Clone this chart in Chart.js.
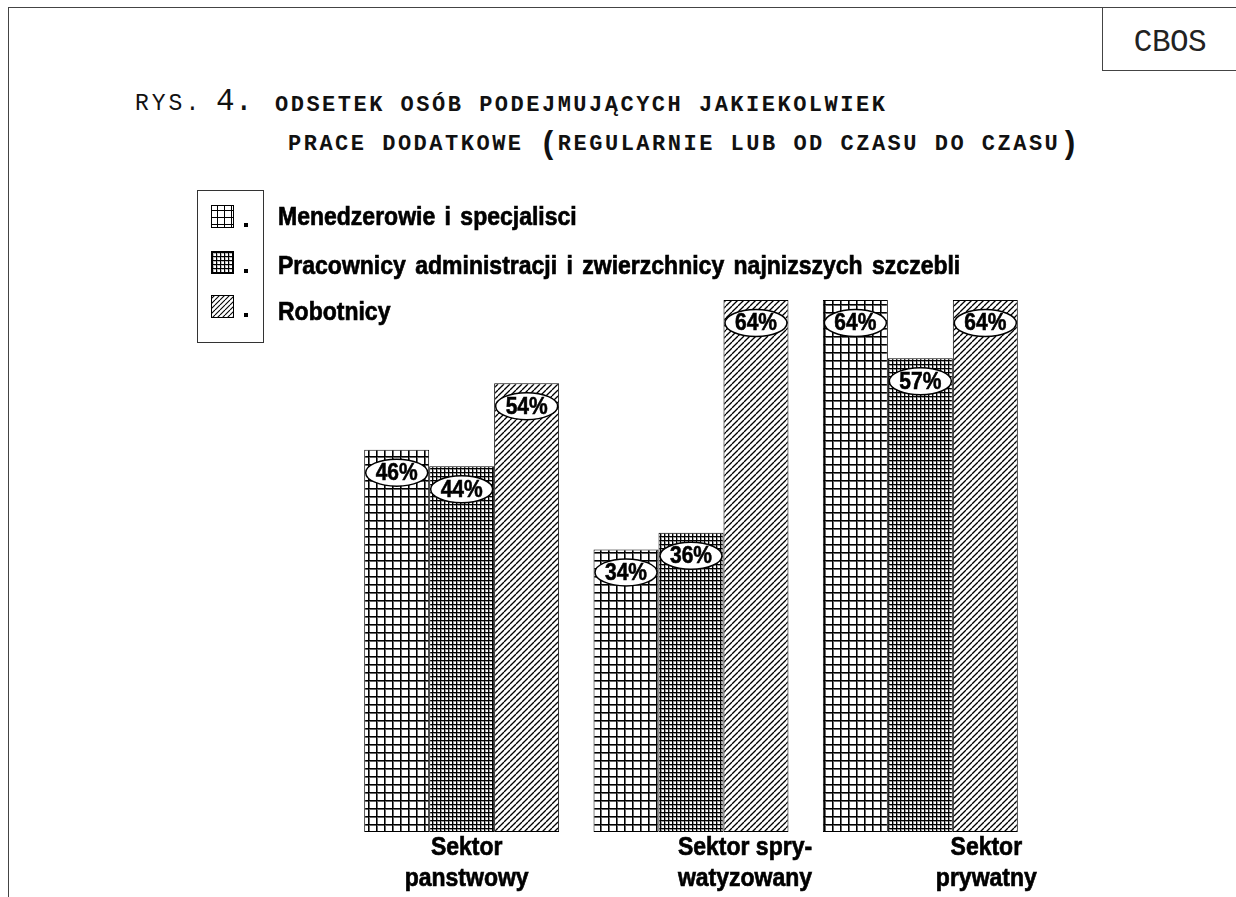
<!DOCTYPE html>
<html>
<head>
<meta charset="utf-8">
<script src="https://cdn.jsdelivr.net/npm/chart.js@4"></script>
<style>
  html, body { margin: 0; padding: 0; background: #fff; }
  body { width: 1236px; height: 897px; position: relative; overflow: hidden; }
  #frameTop { position: absolute; left: 8px; top: 7px; width: 1228px; height: 0; border-top: 1.5px solid #444; }
  #frameLeft { position: absolute; left: 8px; top: 7px; width: 0; height: 890px; border-left: 1.5px solid #444; }
  #cbos { position: absolute; left: 1102px; top: 7px; width: 134px; height: 63px; border-left: 1.5px solid #444; border-bottom: 1.5px solid #444;
    font: 31px "Liberation Mono", monospace; color: #222; text-align: center; line-height: 72px; letter-spacing: -0.5px; }
  .title { position: absolute; font-family: "Liberation Mono", monospace; color: #111; white-space: pre; }
  .rys { left: 135px; top: 91px; font-size: 23px; letter-spacing: 3px; }
  .num { left: 216px; top: 84px; font-size: 31px; }
  .head { font-size: 22px; font-weight: bold; letter-spacing: 2.5px; }
  #h1 { left: 275px; top: 93px; }
  #h2 { left: 288px; top: 124px; }
  .par { font-size: 31px; letter-spacing: 0; position: relative; top: 3px; }
  canvas { position: absolute; left: 0; top: 0; }
</style>
</head>
<body>
<div id="frameTop"></div>
<div id="frameLeft"></div>
<div id="cbos">CBOS</div>
<div class="title rys">RYS.</div>
<div class="title num">4.</div>
<div class="title head" id="h1">ODSETEK OSÓB PODEJMUJĄCYCH JAKIEKOLWIEK</div>
<div class="title head" id="h2">PRACE DODATKOWE <span class="par">(</span>REGULARNIE LUB OD CZASU DO CZASU<span class="par">)</span></div>
<canvas id="chart" width="1236" height="897"></canvas>
<script>
const sectors = [['Sektor', 'panstwowy'], ['Sektor spry-', 'watyzowany'], ['Sektor', 'prywatny']];
const groups = ['Menedzerowie i specjalisci', 'Pracownicy administracji i zwierzchnicy najnizszych szczebli', 'Robotnicy'];
const managers = [46, 34, 64];
const clerks = [44, 36, 57];
const workers = [54, 64, 64];

const SANS = '"Liberation Sans", Arial, sans-serif';

// hatch fills drawn on small tiles
function makeTile(size, draw) {
  const c = document.createElement('canvas');
  c.width = size; c.height = size;
  const g = c.getContext('2d');
  g.fillStyle = '#fff';
  g.fillRect(0, 0, size, size);
  draw(g, size);
  return c;
}
function gridTile(step, shade) {
  return makeTile(step, (g, s) => {
    g.fillStyle = '#000';
    g.fillRect(0, 0, s, 1);
    g.fillRect(0, 0, 1, s);
    g.fillStyle = shade;
    g.fillRect(1, 1, s - 1, 1);
    g.fillRect(1, 1, 1, s - 1);
  });
}
function diagTile(step, w) {
  return makeTile(step, (g, s) => {
    g.strokeStyle = '#000';
    g.lineWidth = w;
    for (let k = -1; k <= 1; k++) {
      g.beginPath();
      g.moveTo(k * s, s);
      g.lineTo(k * s + s, 0);
      g.stroke();
    }
  });
}

// bold sans text, stretched a little in height and thickened
function tallText(c, text, x, y, size, stretch, align, weight) {
  c.save();
  c.translate(x, y);
  c.scale(1, stretch);
  c.font = 'bold ' + size + 'px ' + SANS;
  c.textAlign = align;
  c.textBaseline = 'middle';
  c.fillStyle = '#000';
  c.strokeStyle = '#000';
  c.lineWidth = weight;
  c.fillText(text, 0, 0);
  c.strokeText(text, 0, 0);
  c.restore();
}

const ctx = document.getElementById('chart').getContext('2d');
const fills = [gridTile(8, '#666'), gridTile(4, '#999'), diagTile(6, 1.3)].map(t => ctx.createPattern(t, 'repeat'));

const valueLabels = {
  id: 'valueLabels',
  afterDatasetsDraw(chart) {
    const c = chart.ctx;
    chart.data.datasets.forEach((ds, i) => {
      chart.getDatasetMeta(i).data.forEach((bar, j) => {
        const cy = bar.y + 23;
        c.save();
        c.beginPath();
        c.ellipse(bar.x, cy, 31, 13.5, 0, 0, Math.PI * 2);
        c.fillStyle = '#fff';
        c.fill();
        c.lineWidth = 1.5;
        c.strokeStyle = '#000';
        c.stroke();
        c.restore();
        tallText(c, ds.data[j] + '%', bar.x, cy + 1, 21, 1.12, 'center', 0.5);
      });
    });
  }
};

const sideLegend = {
  id: 'sideLegend',
  afterDraw(chart) {
    const c = chart.ctx;
    const xScale = chart.scales.x;
    // category names under the groups
    const shift = [5, 54, 66];
    sectors.forEach((lines, i) => {
      const x = xScale.getPixelForValue(i) + shift[i];
      lines.forEach((t, k) => tallText(c, t, x, 848 + k * 31, 23, 1.12, 'center', 0.6));
    });
    // legend box with swatches
    c.save();
    c.strokeStyle = '#333';
    c.lineWidth = 1;
    c.strokeRect(197.5, 190.5, 66, 152);
    const legTiles = [gridTile(7, '#fff'), gridTile(4, '#bbb'), diagTile(5, 1.1)];
    const rows = [216, 262, 306];
    rows.forEach((y, i) => {
      c.fillStyle = c.createPattern(legTiles[i], 'repeat');
      c.fillRect(211, y - 11, 23, 23);
      c.strokeStyle = '#000';
      c.lineWidth = 1;
      c.strokeRect(211.5, y - 10.5, 22, 22);
      c.fillStyle = '#000';
      c.fillRect(244, y + 7, 4, 4);
    });
    c.restore();
    const textRows = [218, 267, 313];
    groups.forEach((name, i) => {
      c.save();
      c.wordSpacing = '3px';
      tallText(c, name, 278, textRows[i], 23, 1.12, 'left', 0.6);
      c.restore();
    });
  }
};

new Chart(ctx, {
  type: 'bar',
  data: {
    labels: sectors,
    datasets: [managers, clerks, workers].map((d, i) => ({
      label: groups[i],
      data: d,
      backgroundColor: fills[i],
      borderColor: '#000',
      borderWidth: 1,
      borderSkipped: false,
      categoryPercentage: 0.85,
      barPercentage: 1.0
    }))
  },
  options: {
    responsive: false,
    animation: false,
    devicePixelRatio: 1,
    layout: { padding: { left: 347, right: 201, top: 300, bottom: 65 } },
    plugins: { legend: { display: false }, tooltip: { enabled: false } },
    scales: {
      x: { display: false },
      y: { display: false, min: 0, max: 64 }
    }
  },
  plugins: [valueLabels, sideLegend]
});
</script>
</body>
</html>
